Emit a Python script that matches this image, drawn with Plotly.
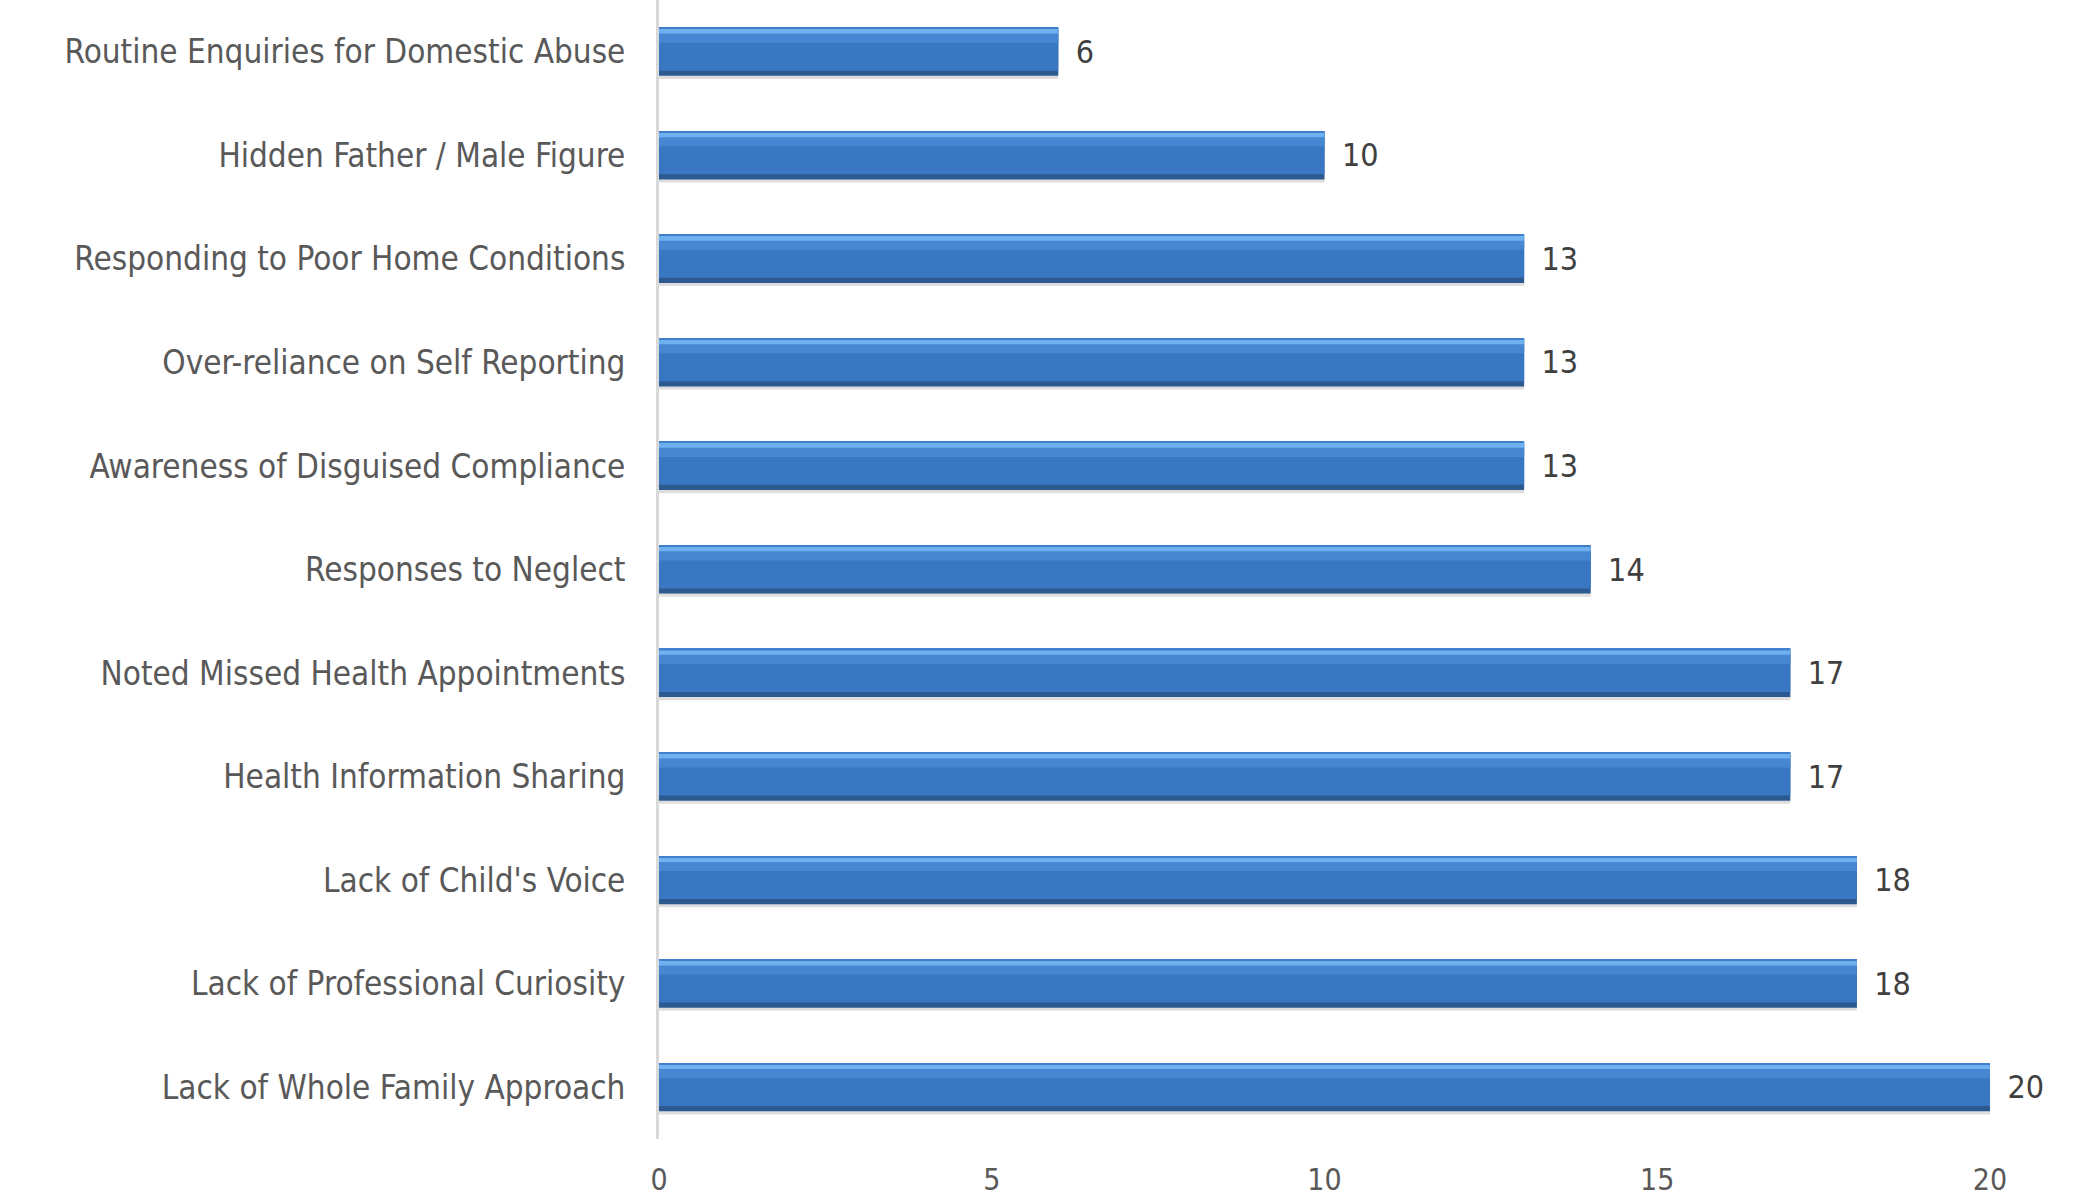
import plotly.graph_objects as go

categories = [
    "Routine Enquiries for Domestic Abuse",
    "Hidden Father / Male Figure",
    "Responding to Poor Home Conditions",
    "Over-reliance on Self Reporting",
    "Awareness of Disguised Compliance",
    "Responses to Neglect",
    "Noted Missed Health Appointments",
    "Health Information Sharing",
    "Lack of Child's Voice",
    "Lack of Professional Curiosity",
    "Lack of Whole Family Approach",
]
values = [6, 10, 13, 13, 13, 14, 17, 17, 18, 18, 20]
x_ticks = [0, 5, 10, 15, 20]

FONT = "Liberation Sans Narrow, Arial Narrow, DejaVu Sans Condensed, sans-serif"
W = 0.465  # full bar thickness in category units

fig = go.Figure()

# shadow under bar
fig.add_trace(go.Bar(
    y=categories, x=values, orientation="h",
    width=0.035, offset=W / 2 - 0.005,
    marker=dict(color="rgba(0,0,0,0.13)", line=dict(width=0)),
    hoverinfo="skip", showlegend=False,
))
# dark base (full bar) with labels
fig.add_trace(go.Bar(
    y=categories, x=values, orientation="h",
    width=W, offset=-W / 2,
    marker=dict(color="#2b5990", line=dict(width=0)),
    texttemplate="\u2002%{x}", textposition="outside", constraintext="none",
    textfont=dict(family=FONT, size=32, color="#404040"),
    cliponaxis=False, showlegend=False,
))
# main body
fig.add_trace(go.Bar(
    y=categories, x=values, orientation="h",
    width=W - 0.065, offset=-W / 2 + 0.015,
    marker=dict(color="#3a77c2", line=dict(width=0)),
    hoverinfo="skip", showlegend=False,
))
# upper lighter band
fig.add_trace(go.Bar(
    y=categories, x=values, orientation="h",
    width=0.13, offset=-W / 2 + 0.015,
    marker=dict(color="#4787d2", line=dict(width=0)),
    hoverinfo="skip", showlegend=False,
))
# top highlight strip
fig.add_trace(go.Bar(
    y=categories, x=values, orientation="h",
    width=0.045, offset=-W / 2 + 0.012,
    marker=dict(color="#6fb0ef", line=dict(width=0)),
    hoverinfo="skip", showlegend=False,
))
# top edge
fig.add_trace(go.Bar(
    y=categories, x=values, orientation="h",
    width=0.012, offset=-W / 2,
    marker=dict(color="#3f7fcc", line=dict(width=0)),
    hoverinfo="skip", showlegend=False,
))

fig.update_layout(
    width=2099, height=1197,
    margin=dict(l=659, r=109, t=0, b=31),
    paper_bgcolor="white", plot_bgcolor="white",
    barmode="overlay",
    font=dict(family=FONT, size=33, color="#595959"),
    xaxis=dict(
        range=[0, 20], tickvals=x_ticks, showgrid=False, zeroline=False,
        showline=False, ticks="", ticklabelstandoff=20,
        tickfont=dict(family=FONT, size=30, color="#595959"),
    ),
    yaxis=dict(
        autorange="reversed", showgrid=False, zeroline=False,
        showline=True, linecolor="#d9d9d9", linewidth=3,
        ticks="", ticklabelstandoff=24,
        tickfont=dict(family=FONT, size=33, color="#595959"),
    ),
)

fig.write_html(
    "out.html",
    config={"displayModeBar": False},
    post_script="document.body.style.margin='0';document.body.style.overflow='hidden';",
)
